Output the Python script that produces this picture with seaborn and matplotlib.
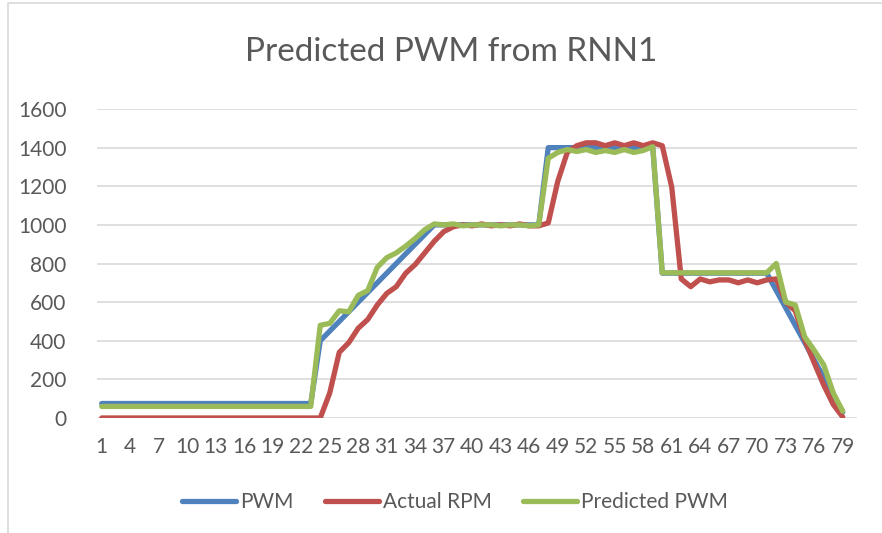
import pandas as pd
import matplotlib.pyplot as plt
import seaborn as sns
from matplotlib.patches import Rectangle

# ---------------------------------
# DATA
# ---------------------------------

steps = list(range(1, 80))

pwm = (
    [75] * 23
    + [400, 450, 500, 550, 600, 650, 700, 750, 800, 850, 900, 950]
    + [1000] * 12
    + [1400] * 12
    + [750] * 12
    + [660, 570, 480, 390, 300, 210, 120, 30]
)

actual_rpm = (
    [0] * 24
    + [130, 340, 390, 465, 510, 585, 645, 680, 750, 795, 855, 915, 965, 990]
    + [1000, 995, 1005, 995, 1000, 995, 1005, 995, 995]
    + [1010, 1225, 1375, 1410, 1425, 1425, 1410, 1425, 1410, 1425, 1410, 1425, 1410, 1195]
    + [720, 680, 720, 705, 715, 715, 700, 715, 700, 715, 720]
    + [600, 555, 405, 285, 170, 70, 5]
)

predicted_pwm = (
    [60] * 23
    + [480, 490, 555, 550, 635, 660, 780, 830, 855, 890, 930, 975, 1005]
    + [1000, 1005, 995, 1000, 1000, 1000, 995, 1000, 1000, 995, 1000]
    + [1345, 1375, 1390, 1380, 1390, 1375, 1385, 1375, 1390, 1375, 1385, 1405]
    + [752] * 12
    + [800, 600, 585, 420, 350, 275, 130, 35]
)

series_names = ["PWM", "Actual RPM", "Predicted PWM"]
series_colors = ["#4F81BD", "#C0504D", "#9BBB59"]
x_tick_labels = list(range(1, 80, 3))
y_ticks = list(range(0, 1601, 200))

df = pd.DataFrame({
    "step": steps * 3,
    "value": pwm + actual_rpm + predicted_pwm,
    "series": sum([[name] * len(steps) for name in series_names], []),
})

# ---------------------------------
# PLOT
# ---------------------------------

sns.set_style("white")
plt.rcParams["font.family"] = ["Lato", "DejaVu Sans"]
text_color = "#595959"

fig = plt.figure(figsize=(8.82, 5.33), dpi=100)
ax = fig.add_axes([97 / 882, 1 - 418 / 533, (857 - 97) / 882, (418 - 109) / 533])

sns.lineplot(
    data=df,
    x="step",
    y="value",
    hue="series",
    hue_order=series_names,
    palette=series_colors,
    linewidth=3.8,
    ax=ax,
    legend=False,
    solid_joinstyle="round",
    solid_capstyle="round",
)

ax.set_xlim(0.5, 80.5)
ax.set_ylim(0, 1600)
ax.set_yticks(y_ticks)
ax.set_xticks(x_tick_labels)
ax.set_xticklabels([str(v) for v in x_tick_labels])
ax.tick_params(axis="both", length=0, labelsize=15, colors=text_color)
ax.tick_params(axis="x", pad=14)
ax.tick_params(axis="y", pad=22)
ax.grid(axis="y", color="#D9D9D9", linewidth=1.2)
ax.set_axisbelow(True)
for side in ["top", "right", "left", "bottom"]:
    ax.spines[side].set_visible(False)
ax.set_xlabel("")
ax.set_ylabel("")

fig.text(451 / 882, 1 - 52 / 533, "Predicted PWM from RNN1",
         ha="center", va="center", fontsize=24, color=text_color)

handles = [plt.Line2D([], [], color=c, linewidth=3.8, solid_capstyle="round")
           for c in series_colors]
fig.legend(handles, series_names, loc="center", bbox_to_anchor=(455 / 882, 1 - 502 / 533),
           ncol=3, frameon=False, fontsize=15, handlelength=2.6, handletextpad=0.2,
           columnspacing=1.5, labelcolor=text_color)

# chart border (only top/left visible in the reference crop)
fig.patches.append(Rectangle((8 / 882, -0.1), 1.2, 1 - 3 / 533 + 0.1,
                             transform=fig.transFigure, fill=False,
                             edgecolor="#D9D9D9", linewidth=1.2))

fig.savefig("out.png", dpi=100)
